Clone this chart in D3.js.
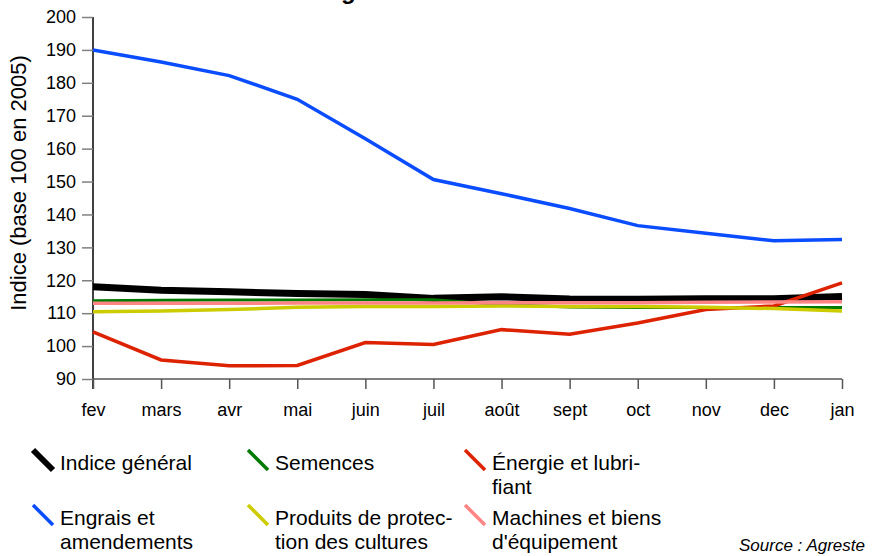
<!DOCTYPE html>
<html>
<head>
<meta charset="utf-8">
<script src="https://cdn.jsdelivr.net/npm/d3@7"></script>
<style>
  body { margin: 0; background: #fff; }
  text { font-family: "Liberation Sans", Arial, sans-serif; }
</style>
</head>
<body>
<div id="chart"></div>
<script>
var svgWidth = 879;
var svgHeight = 556;

// months and y ticks
var months = ["fev", "mars", "avr", "mai", "juin", "juil", "août", "sept", "oct", "nov", "dec", "jan"];
var yTicks = [90, 100, 110, 120, 130, 140, 150, 160, 170, 180, 190, 200];

// series values
var indiceGeneral = [118.0, 117.0, 116.5, 116.0, 115.7, 114.5, 115.0, 114.3, 114.2, 114.4, 114.4, 115.1];
var semences      = [113.8, 113.9, 114.0, 114.0, 114.1, 114.1, 112.6, 111.9, 111.7, 111.7, 111.7, 111.7];
var energie       = [104.3, 95.8, 94.0, 94.1, 101.1, 100.5, 105.0, 103.6, 107.0, 111.1, 112.2, 119.2];
var engrais       = [190.0, 186.3, 182.2, 175.0, 163.0, 150.6, 146.3, 141.8, 136.6, 134.3, 132.0, 132.4];
var protection    = [110.4, 110.7, 111.1, 111.8, 112.0, 112.0, 112.2, 112.0, 112.0, 111.8, 111.4, 110.7];
var machines      = [113.0, 113.0, 113.0, 113.1, 113.1, 113.1, 113.2, 113.2, 113.2, 113.3, 113.4, 113.5];

var series = [
  { name: ["Indice général"], values: indiceGeneral, color: "#000000", width: 7 },
  { name: ["Semences"], values: semences, color: "#007a00", width: 3 },
  { name: ["Énergie et lubri-", "fiant"], values: energie, color: "#dd2200", width: 3.5 },
  { name: ["Engrais et", "amendements"], values: engrais, color: "#0a4cff", width: 3.5 },
  { name: ["Produits de protec-", "tion des cultures"], values: protection, color: "#cccc00", width: 3.5 },
  { name: ["Machines et biens", "d'équipement"], values: machines, color: "#ff8585", width: 3.5 }
];

var svg = d3.select("#chart")
  .append("svg")
  .attr("width", svgWidth)
  .attr("height", svgHeight);

// Scales
var xScale = d3.scalePoint()
  .domain(months)
  .range([93, 842]);

var yScale = d3.scaleLinear()
  .domain([90, 200])
  .range([379, 17]);

// title, mostly cut off above the top edge (only the "g" shows)
var title = svg.append("text")
  .attr("y", -1)
  .style("font-size", "24px")
  .style("font-weight", "bold")
  .text("Indices des intrants agricoles");
var gIndex = title.text().indexOf("g");
title.attr("x", 341 - title.node().getSubStringLength(0, gIndex));

// Axes
var leftAxis = d3.axisLeft(yScale).tickValues(yTicks).tickSize(11).tickPadding(6);
var bottomAxis = d3.axisBottom(xScale).tickSize(10).tickPadding(14);

var yAxis = svg.append("g")
  .attr("transform", "translate(93,0)")
  .call(leftAxis);
yAxis.select(".domain").attr("stroke", "#000").attr("stroke-width", 1.5).attr("d", "M0,17V389");
yAxis.selectAll(".tick line").attr("stroke", "#808080").attr("stroke-width", 1.5);
yAxis.selectAll(".tick text").style("font-size", "18px").attr("fill", "#000")
  .style("font-family", "'Liberation Sans', Arial, sans-serif");

var xAxis = svg.append("g")
  .attr("transform", "translate(0,379)")
  .call(bottomAxis);
xAxis.select(".domain").attr("stroke", "#555").attr("stroke-width", 1.5).attr("d", "M93,0H842");
xAxis.selectAll(".tick line").attr("stroke", "#555").attr("stroke-width", 1.5);
xAxis.selectAll(".tick text").style("font-size", "18px").attr("fill", "#000")
  .style("font-family", "'Liberation Sans', Arial, sans-serif");

// y label
svg.append("text")
  .attr("transform", "translate(26,183) rotate(-90)")
  .attr("text-anchor", "middle")
  .style("font-size", "22px")
  .text("Indice (base 100 en 2005)");

// Lines
var line = d3.line()
  .x(function(d, i) { return xScale(months[i]); })
  .y(function(d) { return yScale(d); });

svg.selectAll("path.series")
  .data(series)
  .enter().append("path")
  .attr("class", "series")
  .attr("fill", "none")
  .attr("stroke", function(d) { return d.color; })
  .attr("stroke-width", function(d) { return d.width; })
  .attr("d", function(d) { return line(d.values); });

// Legend
var legendCols = [33, 248, 465];
var legendRows = [450, 505];

var legend = svg.selectAll("g.legend")
  .data(series)
  .enter().append("g")
  .attr("class", "legend")
  .attr("transform", function(d, i) {
    return "translate(" + legendCols[i % 3] + "," + legendRows[Math.floor(i / 3)] + ")";
  });

legend.append("line")
  .attr("x1", 0).attr("y1", 0)
  .attr("x2", 20).attr("y2", 20)
  .attr("stroke", function(d) { return d.color; })
  .attr("stroke-width", function(d) { return d.width > 5 ? 6 : 3.5; });

legend.each(function(d) {
  var t = d3.select(this).append("text")
    .attr("x", 27)
    .attr("y", 20)
    .style("font-size", "21px");
  d.name.forEach(function(s, j) {
    t.append("tspan").attr("x", 27).attr("dy", j === 0 ? 0 : 24).text(s);
  });
});

svg.append("text")
  .attr("x", 865)
  .attr("y", 551)
  .attr("text-anchor", "end")
  .style("font-size", "17px")
  .style("font-style", "italic")
  .text("Source : Agreste");
</script>
</body>
</html>
